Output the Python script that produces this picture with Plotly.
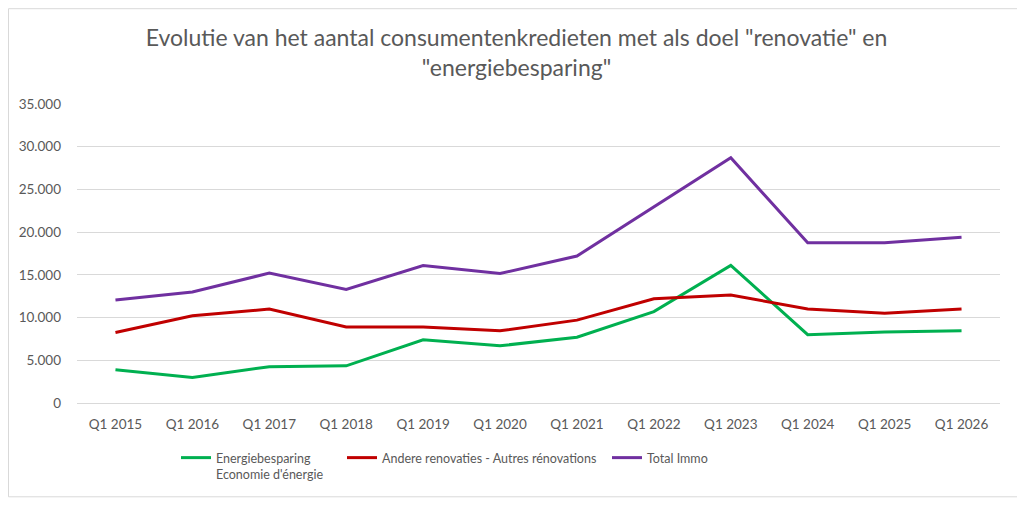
import plotly.graph_objects as go

# Consumentenkredieten "renovatie" / "energiebesparing", Q1 per jaar
quarters = ["Q1 2015", "Q1 2016", "Q1 2017", "Q1 2018", "Q1 2019", "Q1 2020",
            "Q1 2021", "Q1 2022", "Q1 2023", "Q1 2024", "Q1 2025", "Q1 2026"]
energie = [3900, 3000, 4250, 4350, 7400, 6700, 7700, 10700, 16100, 8000, 8300, 8450]
andere = [8250, 10200, 11000, 8900, 8900, 8450, 9700, 12200, 12650, 11000, 10500, 11000]
total_immo = [12050, 13000, 15200, 13300, 16100, 15150, 17200, 23000, 28700, 18750, 18750, 19400]
y_ticks = [0, 5000, 10000, 15000, 20000, 25000, 30000, 35000]

FONT = "Lato"
GREY = "#595959"

# the page body has an 8px margin, so the figure is 8px smaller than the window
W, H, OFF = 1017, 502, 8
PLOT_W, PLOT_H = 923, 299.6


def cx(px):
    return (px - OFF) / W


def cy(px):
    return 1 - (px - OFF) / H


series = [
    ("Energiebesparing<br>Economie d'énergie", energie, "#00B050", "legend"),
    ("Andere renovaties - Autres rénovations", andere, "#C00000", "legend2"),
    ("Total Immo", total_immo, "#7030A0", "legend3"),
]

fig = go.Figure()
for name, vals, color, leg in series:
    fig.add_trace(go.Scatter(
        x=quarters, y=vals, name=name, mode="lines",
        line=dict(color=color, width=3),
        legend=leg, showlegend=True,
    ))

leg_common = dict(
    orientation="h", xref="container", yref="container",
    yanchor="top", xanchor="left", valign="top",
    font=dict(family=FONT, size=12.5, color=GREY),
    bgcolor="rgba(0,0,0,0)", itemwidth=30,
)

fig.update_layout(
    width=W, height=H,
    paper_bgcolor="white", plot_bgcolor="white",
    separators=",.",
    showlegend=True,
    margin=dict(l=77 - OFF, r=25, t=104 - OFF, b=107),
    title=dict(
        text='Evolutie van het aantal consumentenkredieten met als doel "renovatie" en<br>"energiebesparing"',
        x=0.5, xanchor="center", xref="container",
        y=cy(46), yanchor="top", yref="container",
        font=dict(family=FONT, size=23, color=GREY),
    ),
    legend=dict(x=cx(176), y=cy(443), **leg_common),
    legend2=dict(x=cx(342), y=cy(443), **leg_common),
    legend3=dict(x=cx(607), y=cy(443), **leg_common),
    xaxis=dict(
        type="category", range=[-0.5, len(quarters) - 0.5],
        showgrid=False, showline=False, ticks="",
        tickfont=dict(family=FONT, size=13.5, color=GREY),
        ticklabelstandoff=11,
    ),
    yaxis=dict(
        range=[0, 35000], tickvals=y_ticks, tickformat=",d",
        showgrid=True, gridcolor="#D9D9D9", gridwidth=1,
        zeroline=True, zerolinecolor="#D9D9D9", zerolinewidth=1,
        showline=False, ticks="",
        tickfont=dict(family=FONT, size=13.5, color=GREY),
        ticklabelstandoff=15,
    ),
    shapes=[dict(
        type="rect", xref="paper", yref="paper",
        x0=(OFF + 0.5 - 77) / PLOT_W, x1=1 + 20 / PLOT_W,
        y0=-94 / PLOT_H, y1=1 + (104 - OFF - 0.5) / PLOT_H,
        line=dict(color="#D9D9D9", width=1), fillcolor="rgba(0,0,0,0)", layer="below",
    )],
)

fig.write_html("out.html")
